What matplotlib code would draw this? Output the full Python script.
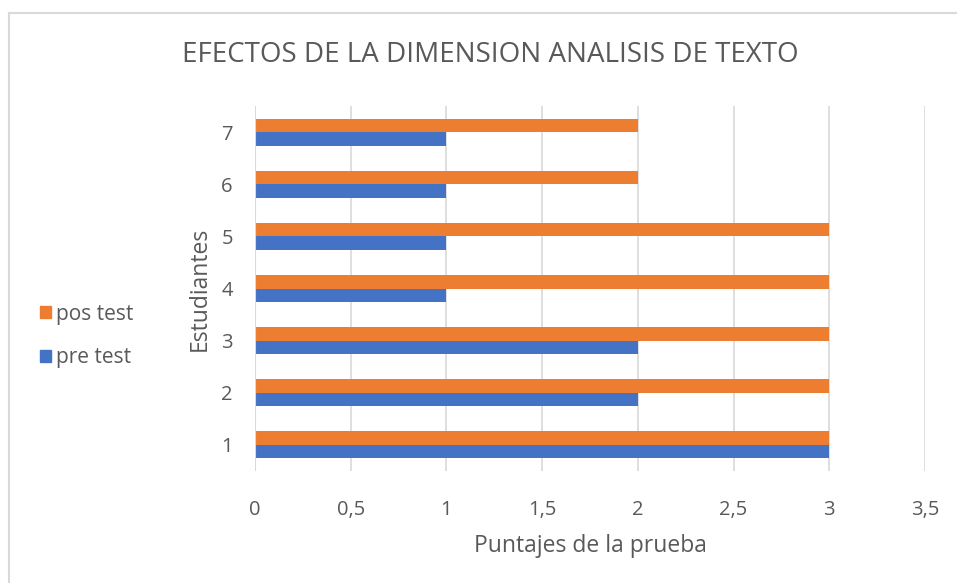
import matplotlib
matplotlib.use("Agg")
import matplotlib.pyplot as plt
import numpy as np
from matplotlib.lines import Line2D
from matplotlib.patches import Patch

categories = ["1", "2", "3", "4", "5", "6", "7"]
pre_test = [3, 2, 2, 1, 1, 1, 1]
pos_test = [3, 3, 3, 3, 3, 2, 2]
x_ticks = [0, 0.5, 1, 1.5, 2, 2.5, 3, 3.5]
x_tick_labels = ["0", "0,5", "1", "1,5", "2", "2,5", "3", "3,5"]

plt.rcParams['font.family'] = ['Open Sans', 'DejaVu Sans']
txt = "#595959"
blue = "#4472C4"
orange = "#ED7D31"

fig = plt.figure(figsize=(9.57, 5.83), dpi=100)
ax = fig.add_axes([255/957, 1-471/583, 670/957, 365/583])

y = np.arange(1, len(categories) + 1)
h = 0.26
ax.barh(y - h/2, pre_test, height=h, color=blue, label="pre test", zorder=3)
ax.barh(y + h/2, pos_test, height=h, color=orange, label="pos test", zorder=3)

ax.set_xlim(0, 3.5)
ax.set_ylim(0.5, 7.5)
ax.set_xticks(x_ticks)
ax.set_xticklabels(x_tick_labels)
ax.set_yticks(y)
ax.set_yticklabels(categories)
ax.tick_params(axis='both', length=0, colors=txt, labelsize=14.5)
ax.tick_params(axis='x', pad=21)
ax.tick_params(axis='y', pad=16)
ax.grid(axis='x', color="#D9D9D9", linewidth=1.2, zorder=0)
for s in ax.spines.values():
    s.set_visible(False)
ax.axvline(0, color="#D9D9D9", linewidth=1.5, zorder=4)

ax.set_xlabel("Puntajes de la prueba", fontsize=16.5, color=txt, labelpad=10)
ax.set_ylabel("Estudiantes", fontsize=16.5, color=txt, labelpad=7)

fig.text(490/957, 1-55/583, "EFECTOS DE LA DIMENSION ANALISIS DE TEXTO",
         ha='center', va='center', fontsize=20, color=txt)

handles = [Patch(color=orange), Patch(color=blue)]
leg = fig.legend(handles, ["pos test", "pre test"], loc='center left',
                 bbox_to_anchor=(21/957, 1-336/583), frameon=False,
                 fontsize=15, handlelength=0.52, handleheight=0.52,
                 handletextpad=0.25, labelspacing=1.1)
for t in leg.get_texts():
    t.set_color(txt)

# outer chart border (top and left visible)
fig.add_artist(Line2D([9/957, 9/957], [0, 1-13/583], transform=fig.transFigure,
                      color="#D9D9D9", linewidth=1.5))
fig.add_artist(Line2D([9/957, 1], [1-13/583, 1-13/583], transform=fig.transFigure,
                      color="#D9D9D9", linewidth=1.5))

fig.savefig("out.png", dpi=100)
